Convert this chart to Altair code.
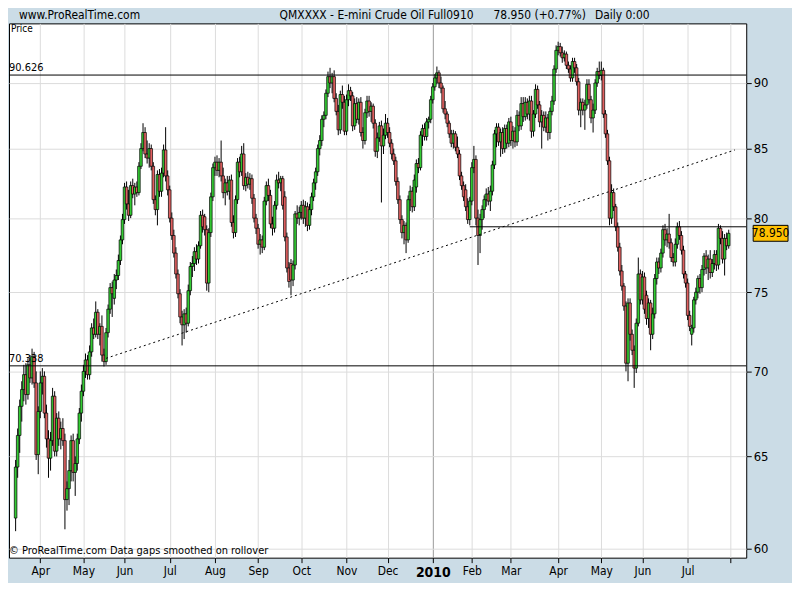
import altair as alt
import pandas as pd

FONT = "Liberation Sans Narrow, Arial Narrow, DejaVu Sans Condensed, Liberation Sans, sans-serif"
GREEN = "#33cc33"
RED = "#e06060"
BG = "#cbdce6"

# ---- daily candles (open, high, low, close), one list per month ----
mar09 = [(61.6,64.8,60.9,64.4),(64.4,66.6,63.8,66.2),(66.2,68.3,65.2,67.9),(67.9,69.4,67.0,68.9),
         (68.9,70.4,68.2,69.8),(69.8,70.5,68.0,68.6),(68.6,70.8,68.3,70.4),(70.4,71.0,69.3,69.6),
         (69.6,71.4,69.2,70.9),(70.9,71.2,69.0,69.3),(69.3,70.0,64.8,65.1),(65.1,67.9,64.0,67.6)]
apr09 = [(67.6,70.0,67.2,69.3),(69.3,70.2,68.6,69.7),(69.7,70.0,67.2,67.5),(67.5,68.0,65.5,66.0),
         (66.0,66.5,63.8,64.9),(64.9,66.4,64.2,65.9),(65.9,69.0,65.6,68.5),(68.5,68.8,65.0,65.3),
         (65.3,67.5,65.0,67.2),(67.2,67.6,65.6,66.0),(66.0,67.0,65.4,66.6),(66.6,67.2,65.6,65.9),
         (65.9,66.3,61.0,62.6),(62.6,63.6,62.0,63.2),(63.2,64.8,62.3,64.2),(64.2,66.2,63.6,65.9),
         (65.9,66.3,63.6,64.1),(64.1,65.0,62.8,64.6),(64.6,66.3,64.2,66.0),(66.0,67.8,65.7,67.5),
         (67.5,69.2,67.0,68.8)]
may09 = [(68.8,70.4,68.5,70.0),(70.0,71.1,69.6,70.7),(70.7,71.0,69.5,69.8),(69.8,71.6,69.5,71.2),
         (71.2,73.0,70.9,72.7),(72.7,73.3,72.0,72.3),(72.3,74.4,72.1,73.7),(73.7,73.9,72.0,72.3),
         (72.3,73.0,71.6,72.8),(72.8,73.5,70.6,71.0),(71.0,71.4,70.3,70.6),(70.6,72.7,70.4,72.4),
         (72.4,74.2,72.1,73.9),(73.9,75.6,73.6,75.3),(75.3,75.7,73.4,74.9),(74.6,76.2,74.2,75.8),
         (75.8,76.5,75.2,76.1),(76.1,77.5,75.8,77.1),(77.1,78.8,76.8,78.5),(78.5,80.3,78.2,79.9)]
jun09 = [(79.9,82.5,79.6,82.2),(82.2,82.6,80.6,81.0),(81.0,82.0,79.8,80.2),(80.2,82.6,80.0,82.3),
         (82.3,82.8,81.4,81.7),(81.7,82.5,80.9,82.2),(82.2,82.6,81.5,81.8),(81.8,84.0,81.6,83.7),
         (83.7,85.4,83.5,85.0),(85.0,86.9,84.8,86.2),(86.2,86.6,84.3,84.6),(84.6,85.6,83.9,84.3),
         (84.3,85.4,83.6,85.0),(85.0,85.3,83.4,83.7),(83.7,84.0,81.0,81.3),(81.3,81.6,80.2,80.6),
         (80.6,83.4,79.5,83.1),(83.1,83.5,81.5,81.9),(81.9,83.6,81.5,83.2),(83.2,85.3,82.9,84.9),
         (84.9,86.6,82.6,83.0),(83.0,83.4,81.6,82.0)]
jul09 = [(82.0,82.3,79.7,80.0),(80.0,80.4,78.5,78.8),(78.8,79.2,77.3,77.6),(77.6,78.0,75.9,76.2),
         (76.2,76.5,74.6,74.9),(74.9,75.2,73.0,73.4),(73.4,73.8,71.6,72.9),(72.9,73.9,72.0,73.6),
         (73.6,74.0,72.4,73.0),(73.0,75.5,72.8,75.1),(75.1,77.0,74.8,76.7),(76.7,77.4,76.0,76.9),
         (76.9,78.0,76.4,77.7),(77.7,78.2,76.8,77.2),(77.2,78.4,76.9,78.1),(78.1,80.5,77.9,80.2),
         (80.2,80.6,79.0,79.4),(80.1,80.3,78.8,79.2),(79.2,79.5,75.1,75.6),(75.6,79.3,75.0,79.0),
         (79.0,81.8,78.7,81.5),(81.5,83.9,81.2,83.6)]
aug09 = [(83.6,84.4,83.0,84.0),(84.0,84.5,83.0,83.4),(83.4,84.3,82.9,84.0),(84.0,85.6,82.6,83.0),
         (83.0,83.6,81.4,81.8),(81.8,82.8,80.9,82.5),(82.5,83.0,81.6,81.9),(81.9,83.0,81.3,82.7),
         (82.7,83.1,79.4,79.7),(79.7,80.2,78.6,79.0),(79.0,81.6,78.7,81.3),(81.3,84.3,81.0,84.0),
         (84.0,84.4,82.9,83.3),(83.3,85.2,83.0,84.6),(84.6,85.4,82.0,82.3),(82.3,83.2,81.9,82.9),
         (82.9,83.3,82.1,82.4),(82.4,83.2,82.0,82.8),(82.8,83.1,81.0,81.4),(81.4,81.7,79.7,80.0),
         (80.0,80.3,78.9,79.3)]
sep09 = [(79.3,79.6,77.9,78.2),(78.2,78.9,77.5,78.5),(78.5,78.8,77.6,78.0),(78.0,81.5,77.8,81.2),
         (81.2,82.6,80.9,82.3),(82.3,82.8,81.2,81.6),(81.6,82.0,79.3,79.6),(79.6,80.1,78.8,79.3),
         (79.3,81.2,79.0,80.9),(80.9,83.1,80.6,82.7),(82.7,83.3,82.1,82.5),(82.5,83.0,81.9,82.8),
         (82.8,83.0,80.6,80.9),(81.5,81.9,78.4,78.7),(78.7,79.0,76.3,76.6),(76.6,77.0,75.3,75.7),
         (76.9,77.2,74.8,75.8),(75.8,77.1,75.4,76.8),(76.8,80.5,76.5,80.3),(80.3,80.9,79.6,80.0),
         (80.0,80.8,79.5,80.4)]
oct09 = [(80.4,81.2,79.9,80.9),(80.9,81.3,79.6,80.0),(80.0,81.2,79.4,80.8),(80.8,81.1,79.1,79.5),
         (79.5,81.0,79.2,80.6),(80.6,81.8,80.2,81.5),(81.5,82.8,81.2,82.5),(82.5,83.6,82.0,83.3),
         (83.3,85.3,83.0,85.0),(85.0,86.0,84.5,85.6),(85.6,87.5,85.2,87.2),(87.2,87.8,86.6,87.5),
         (87.5,89.5,87.2,89.2),(89.2,90.9,88.9,90.5),(90.5,91.2,89.6,90.0),(90.0,90.8,89.2,90.5),
         (90.5,91.0,88.5,88.8),(88.8,89.2,87.5,87.8),(87.8,88.3,86.0,86.4),(86.4,89.4,86.1,89.1),
         (89.1,89.8,88.0,88.5),(88.5,89.0,86.0,86.3)]
nov09 = [(86.3,89.1,86.0,88.7),(88.7,89.9,88.2,89.4),(89.4,89.7,88.6,89.0),(89.0,89.3,86.3,86.7),
         (86.7,88.8,86.4,88.4),(88.4,88.9,86.9,87.2),(87.2,88.8,86.8,88.5),(88.5,88.9,85.9,86.2),
         (86.2,86.6,85.0,85.6),(85.6,88.0,85.3,87.7),(87.7,89.0,87.3,88.6),(88.6,89.0,87.4,87.8),
         (87.8,88.5,87.0,88.2),(88.2,88.4,86.5,86.9),(86.9,87.2,84.4,84.8),(84.8,86.2,84.3,85.8),
         (85.8,87.0,85.5,86.7),(86.7,87.1,81.1,85.2),(85.2,86.5,84.6,86.0),(86.0,87.6,85.7,86.9)]
dec09 = [(86.9,87.3,85.8,86.2),(86.2,86.6,85.1,85.4),(85.4,85.7,84.2,84.6),(84.6,85.0,83.8,84.1),
         (84.1,84.4,82.3,82.6),(82.6,82.9,81.0,81.3),(81.3,81.6,79.6,79.9),(79.9,80.2,78.6,79.0),
         (79.0,79.8,78.2,79.5),(79.5,79.7,77.6,78.5),(78.5,81.6,78.3,81.3),(81.3,82.3,80.5,81.9),
         (81.9,82.2,80.4,80.8),(80.8,83.1,80.5,82.7),(82.2,84.2,81.8,83.9),(83.9,84.3,83.2,83.6),
         (83.6,86.3,83.4,86.0),(86.0,86.8,85.2,86.5),(86.5,86.9,85.6,85.9),(85.9,87.3,85.6,87.0),
         (87.0,87.4,86.5,87.2),(87.2,89.0,86.9,88.7)]
jan10 = [(88.7,90.0,88.4,89.7),(89.7,90.7,89.4,90.4),(90.4,91.3,89.9,90.8),(90.8,91.0,89.6,90.0),
         (90.0,90.5,89.2,89.6),(89.6,89.8,87.7,88.0),(88.0,88.6,87.2,87.6),(87.6,87.8,86.6,86.9),
         (86.9,87.1,85.8,86.1),(86.1,86.4,85.1,85.4),(85.4,86.4,85.0,86.1),(86.1,86.3,84.8,85.1),
         (85.1,85.9,84.3,84.6),(84.6,84.9,82.7,83.0),(83.0,83.3,82.0,82.3),(82.3,82.6,81.2,81.5),
         (82.0,82.4,80.5,80.8),(80.8,81.4,79.6,79.9),(79.9,81.5,79.5,81.2)]
feb10 = [(81.2,84.0,80.9,83.6),(83.6,85.2,83.2,84.2),(84.2,84.5,79.5,80.0),(80.0,80.6,76.8,78.8),
         (78.8,80.3,77.6,79.9),(79.9,80.9,79.2,80.6),(80.6,81.6,80.0,81.3),(81.3,82.1,80.8,81.7),
         (81.7,82.2,80.9,81.2),(81.2,82.3,80.5,81.9),(81.9,84.1,81.6,83.8),(83.8,86.4,83.5,86.1),
         (86.1,86.9,85.1,86.6),(86.6,86.9,85.2,85.5),(85.5,86.5,84.4,86.2),(86.2,86.6,84.6,85.0),
         (85.0,86.8,84.7,86.5),(86.5,86.8,85.0,85.4),(85.4,87.3,85.1,87.0)]
mar10 = [(87.0,87.4,85.2,85.6),(85.6,86.7,85.0,86.3),(86.3,86.6,85.1,85.5),(85.5,87.9,85.2,87.5),
         (87.5,87.8,86.3,86.7),(86.7,88.9,86.4,88.4),(88.4,88.9,87.0,87.4),(87.4,88.9,87.1,88.5),
         (88.5,88.8,87.2,87.6),(87.6,89.0,87.1,88.6),(88.6,89.0,85.8,86.3),(86.3,87.9,85.9,87.6),
         (87.6,89.9,87.3,89.5),(89.5,89.8,88.0,88.3),(88.3,88.6,86.6,87.0),(87.0,87.9,85.0,87.5),
         (87.5,87.8,86.3,86.6),(86.6,87.8,86.2,87.3),(87.3,87.6,85.6,86.2),(86.2,88.1,85.7,87.8),
         (87.8,89.0,87.5,88.6),(88.6,91.4,88.3,91.1),(91.1,93.0,90.8,92.6)]
apr10 = [(92.6,93.3,92.2,92.9),(92.9,93.2,92.1,92.4),(92.4,92.9,91.6,92.0),(92.0,92.6,91.7,92.3),
         (92.3,92.5,91.1,91.4),(91.4,91.7,90.8,91.1),(91.1,91.4,90.1,90.4),(90.4,92.0,90.1,91.7),
         (91.7,92.0,90.8,91.2),(91.2,91.5,89.8,90.1),(90.1,90.4,87.5,87.9),(87.9,88.8,86.6,88.5),
         (88.5,88.8,87.5,87.9),(87.9,88.7,86.4,88.3),(88.3,90.3,88.0,89.9),(89.9,90.3,88.4,88.7),
         (88.7,89.0,86.9,87.3),(87.3,88.4,86.2,87.9),(87.9,90.3,87.6,90.0),(90.0,91.2,89.7,90.9),
         (90.9,91.7,90.3,90.6)]
may10 = [(90.6,91.7,90.2,91.0),(91.0,91.2,87.3,87.6),(87.6,87.9,85.8,86.1),(86.1,86.4,83.8,84.1),
         (84.1,84.4,79.5,80.0),(80.0,82.4,79.6,81.8),(81.8,82.1,80.5,80.8),(80.8,81.0,79.1,79.4),
         (79.4,79.7,77.7,78.0),(78.0,78.3,76.1,76.4),(76.4,76.8,75.1,75.4),(75.4,75.6,73.8,74.1),
         (74.1,74.4,70.0,70.5),(70.5,74.6,69.4,74.3),(74.3,74.6,71.9,72.3),(72.3,72.6,71.0,71.3),
         (71.3,71.6,69.0,70.2),(70.2,73.3,69.9,73.0),(73.0,77.3,72.8,76.2),(76.2,76.5,74.2,74.5)]
jun10 = [(74.5,76.4,74.2,76.0),(76.0,76.3,73.6,73.9),(74.8,75.1,72.9,73.3),(73.3,74.6,72.7,74.3),
         (74.3,74.5,71.3,72.3),(72.3,74.0,72.0,73.6),(73.6,76.2,73.3,75.9),(75.9,77.3,75.5,77.0),
         (77.0,77.3,76.2,76.6),(76.6,77.9,76.3,77.6),(77.6,79.5,77.3,79.2),(79.2,79.6,78.1,78.5),
         (78.5,79.3,78.0,78.9),(78.9,80.3,77.9,78.3),(78.3,78.6,77.0,77.3),(77.3,77.6,76.7,77.0),
         (77.0,78.6,76.7,78.2),(78.2,79.7,77.9,79.4),(79.4,79.8,78.5,78.8),(78.8,79.1,77.5,77.8),
         (77.8,78.1,75.9,76.2),(76.2,76.4,75.3,75.6)]
jul10 = [(75.6,75.9,73.2,73.5),(73.5,73.8,72.5,72.8),(72.3,72.9,71.6,72.7),(72.7,74.7,72.4,74.5),
         (74.5,75.3,74.2,75.0),(75.0,76.1,74.6,75.9),(75.9,76.2,74.9,75.3),(75.3,76.8,75.0,76.5),
         (76.5,77.6,76.1,77.4),(77.4,77.8,76.2,76.6),(76.6,77.5,75.8,77.2),(77.2,77.8,75.9,76.3),
         (76.3,77.2,76.0,76.9),(76.9,77.8,76.5,77.5),(77.5,77.8,76.4,76.8),(76.8,79.6,76.5,79.3),
         (79.3,79.5,78.2,78.6),(78.6,79.1,76.9,77.2),(77.2,78.9,76.1,78.6),(78.6,79.0,77.8,78.1),
         (78.1,79.2,77.9,78.95)]

months = [mar09, apr09, may09, jun09, jul09, aug09, sep09, oct09, nov09, dec09,
          jan10, feb10, mar10, apr10, may10, jun10, jul10]
month_labels = ["Mar", "Apr", "May", "Jun", "Jul", "Aug", "Sep", "Oct", "Nov", "Dec",
                "2010", "Feb", "Mar", "Apr", "May", "Jun", "Jul", ""]

# horizontal levels, trend line, last price
levels = [90.626, 70.338]
level_labels = ["90.626", "70.338"]
support_level = 79.4
support_start_bar = 221
trend_bars = [44, 350]
trend_values = [70.8, 84.9]
last_price = 78.95
last_label = "78.950"

# ---- build tables ----
rows = []
starts = []
for m in months:
    starts.append(len(rows))
    rows.extend(m)
starts.append(len(rows))  # Aug 2010 grid line
n = len(rows)
df = pd.DataFrame(rows, columns=["open", "high", "low", "close"])
df["idx"] = range(n)
df["dir"] = ["up" if c >= o else "down" for o, c in zip(df.open, df.close)]

tick_vals = starts[1:]
tick_labs = month_labels[1:]
jan_idx = starts[10]
label_expr = "[" + ",".join("'%s'" % s for s in tick_labs) + "][indexof([" + \
    ",".join(str(v) for v in tick_vals) + "], datum.value)]"

W, H = 741, 537

xscale = alt.Scale(domain=[-0.8, 353.1], nice=False, zero=False)
xaxis = alt.Axis(values=tick_vals, labelExpr=label_expr, title=None, grid=True,
                 gridColor={"condition": {"test": "datum.value == %d" % jan_idx, "value": "#9a9a9a"},
                            "value": "#dcdcdc"},
                 tickColor="black", tickSize=5, domain=False, labelColor="black",
                 labelFont=FONT,
                 labelFontSize={"condition": {"test": "datum.value == %d" % jan_idx, "value": 14}, "value": 12},
                 labelFontWeight={"condition": {"test": "datum.value == %d" % jan_idx, "value": "bold"},
                                  "value": "normal"},
                 labelPadding=3, labelFlush=False, labelOverlap=False, labelBound=False)
yscale = alt.Scale(type="log", domain=[59.51, 94.8], nice=False, zero=False)
yaxis = alt.Axis(orient="right", values=[60, 65, 70, 75, 80, 85, 90], format="d", title=None,
                 grid=True, gridColor="#dcdcdc", tickColor="black", tickSize=5, domain=False,
                 labelColor="black", labelFont=FONT, labelFontSize=13, labelPadding=2)


def X(f):
    return alt.X(f, scale=xscale, axis=xaxis)


def Y(f):
    return alt.Y(f, scale=yscale, axis=yaxis)


base = alt.Chart(df)
wicks = base.mark_rule(color="black", strokeWidth=1).encode(x=X("idx:Q"), y=Y("low:Q"), y2="high:Q")
bodies = base.mark_bar(size=2.6, stroke="black", strokeWidth=0.7).encode(
    x=X("idx:Q"), y=Y("open:Q"), y2="close:Q",
    fill=alt.Fill("dir:N", scale=alt.Scale(domain=["up", "down"], range=[GREEN, RED]), legend=None))

lev_df = pd.DataFrame({"level": levels, "label": level_labels})
hlines = alt.Chart(lev_df).mark_rule(color="black", strokeWidth=1).encode(y=Y("level:Q"))
hlabels = alt.Chart(lev_df).mark_text(align="left", baseline="middle", dy=-7, font=FONT,
                                      fontSize=11, color="black").encode(
    x=alt.value(0), y=Y("level:Q"), text="label:N")

sup_df = pd.DataFrame({"start": [support_start_bar], "level": [support_level]})
support = alt.Chart(sup_df).mark_rule(color="black", strokeWidth=1).encode(
    x=X("start:Q"), x2=alt.value(W), y=Y("level:Q"))

trend_df = pd.DataFrame({"idx": trend_bars, "val": trend_values})
trend = alt.Chart(trend_df).mark_line(color="black", strokeWidth=1, strokeDash=[2, 3]).encode(
    x=X("idx:Q"), y=Y("val:Q"))

txt_df = pd.DataFrame({
    "t": ["www.ProRealTime.com", "QMXXXX - E-mini Crude Oil Full0910", "78.950 (+0.77%)", "Daily  0:00"],
    "px": [10, 272, 487, 589]})
titles = alt.Chart(txt_df).mark_text(align="left", baseline="middle", font=FONT, fontSize=12,
                                     color="black").encode(x=alt.X("px:Q", scale=None), y=alt.value(-8), text="t:N")

price_lbl = alt.Chart(pd.DataFrame({"t": ["Price"]})).mark_text(
    align="left", baseline="middle", font=FONT, fontSize=10, color="black").encode(
    x=alt.value(2), y=alt.value(6), text="t:N")
copy_lbl = alt.Chart(pd.DataFrame({"t": ["\u00a9 ProRealTime.com  Data gaps smoothed on rollover"]})).mark_text(
    align="left", baseline="middle", font=FONT, fontSize=11, color="black").encode(
    x=alt.value(0), y=alt.value(H - 7), text="t:N")

last_df = pd.DataFrame({"p": [last_price], "t": [last_label]})
box = alt.Chart(last_df).mark_point(
    shape="M-1,-0.457L1,-0.457L1,0.457L-1,0.457Z", size=1225, filled=True, fill="#ffc000",
    stroke="black", strokeWidth=1, opacity=1).encode(x=alt.value(W + 24.5), y=Y("p:Q"))
box_txt = alt.Chart(last_df).mark_text(align="center", baseline="middle", font=FONT, fontSize=12,
                                       color="black").encode(x=alt.value(W + 24.5), y=Y("p:Q"), text="t:N")

chart = alt.layer(wicks, bodies, hlines, support, trend, hlabels, titles, price_lbl, copy_lbl,
                  box, box_txt).properties(
    width=W, height=H, background=BG,
    padding={"left": 0, "top": 0, "right": 2, "bottom": 2}
).configure_view(stroke="black", strokeWidth=1, fill="white")

chart.save("out.html", embed_options={"renderer": "svg", "actions": False})
